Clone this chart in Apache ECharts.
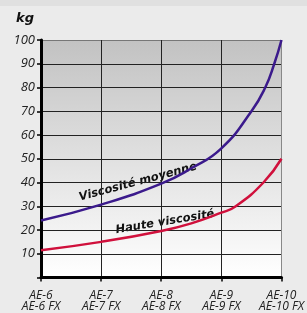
<!DOCTYPE html>
<html>
<head>
<meta charset="utf-8">
<script src="https://cdn.jsdelivr.net/npm/echarts@6/dist/echarts.min.js"></script>
<style>
  html, body { margin: 0; padding: 0; background: #ebebeb; }
  #chart { width: 307px; height: 313px; }
</style>
</head>
<body>
<div id="chart"></div>
<script>
// modèles (axe x) et valeurs
const categories = ['AE-6\nAE-6 FX', 'AE-7\nAE-7 FX', 'AE-8\nAE-8 FX', 'AE-9\nAE-9 FX', 'AE-10\nAE-10 FX'];
const moyenneX = [0, 1, 2, 2.5, 3, 3.5, 3.73, 3.88, 4];
const moyenneY = [24, 30.7, 39.5, 46, 54.4, 70, 80, 90, 100];
const hauteX = [0, 1, 2, 2.5, 3, 3.24, 3.7, 4];
const hauteY = [11.5, 15, 19.6, 22.8, 27.3, 30, 40, 50];
const yTicks = [10, 20, 30, 40, 50, 60, 70, 80, 90, 100];

const pairs = (xs, ys) => xs.map((x, i) => [x, ys[i]]);

// lignes de grille : la dernière (haut / droite) est grise
const ySplitColors = ['#222', '#222', '#222', '#222', '#222', '#222', '#222', '#222', '#222', '#222', '#777'];
const xSplitColors = ['#222', '#222', '#222', '#222', '#888'];

const chart = echarts.init(document.getElementById('chart'));

const option = {
  backgroundColor: '#ebebeb',
  animation: false,
  grid: {
    left: 41, right: 20, top: 40, bottom: 27,
    show: true,
    borderWidth: 0,
    backgroundColor: {
      type: 'linear', x: 0, y: 0, x2: 0, y2: 1,
      colorStops: [{ offset: 0, color: '#c2c2c2' }, { offset: 1, color: '#ffffff' }]
    }
  },
  graphic: [
    { type: 'rect', shape: { x: 0, y: 0, width: 307, height: 6 }, style: { fill: '#e0e0e0' }, silent: true },
    {
      type: 'text', left: 16, top: 12,
      style: { text: 'kg', font: 'italic bold 13px "DejaVu Sans"', fill: '#111' }
    },
    {
      type: 'text', x: 138, y: 182, rotation: 15 * Math.PI / 180,
      style: { text: 'Viscosité moyenne', font: 'italic bold 11.5px "DejaVu Sans"', fill: '#111', align: 'center', verticalAlign: 'middle' }
    },
    {
      type: 'text', x: 165, y: 222, rotation: 9.5 * Math.PI / 180,
      style: { text: 'Haute viscosité', font: 'italic bold 11.5px "DejaVu Sans"', fill: '#111', align: 'center', verticalAlign: 'middle' }
    }
  ],
  xAxis: {
    type: 'value', min: 0, max: 4, interval: 1,
    axisLine: { show: true, onZero: false, lineStyle: { color: '#000', width: 3 } },
    axisTick: { show: true, length: 4, lineStyle: { color: '#000', width: 1.5 } },
    axisLabel: {
      margin: 13, color: '#222', fontFamily: 'Open Sans', fontStyle: 'italic', fontSize: 12, lineHeight: 11,
      formatter: v => categories[v] || ''
    },
    splitLine: { show: true, lineStyle: { color: xSplitColors, width: 1 } }
  },
  yAxis: {
    type: 'value', min: 0, max: 100, interval: 10,
    axisLine: { show: true, lineStyle: { color: '#000', width: 3 } },
    axisTick: { show: true, length: 4, lineStyle: { color: '#000', width: 1.5 } },
    axisLabel: {
      margin: 6, color: '#222', fontFamily: 'Open Sans', fontStyle: 'italic', fontSize: 13,
      formatter: v => yTicks.includes(v) ? String(v) : ''
    },
    splitLine: { show: true, lineStyle: { color: ySplitColors, width: 1 } }
  },
  series: [
    {
      name: 'Viscosité moyenne', type: 'line', smooth: 0.5, symbol: 'none',
      lineStyle: { color: '#3b1a8c', width: 2.5 },
      data: pairs(moyenneX, moyenneY)
    },
    {
      name: 'Haute viscosité', type: 'line', smooth: 0.5, symbol: 'none',
      lineStyle: { color: '#d0103c', width: 2.5 },
      data: pairs(hauteX, hauteY)
    }
  ]
};

chart.setOption(option);
</script>
</body>
</html>
